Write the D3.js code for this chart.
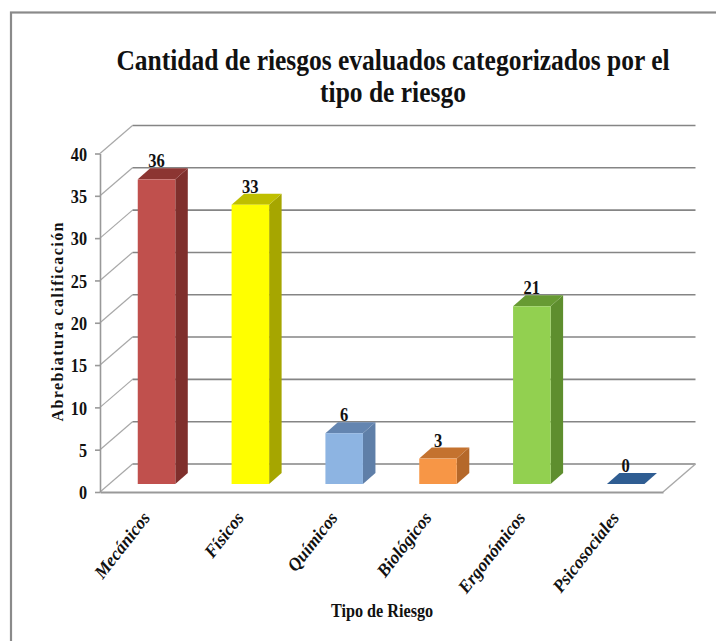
<!DOCTYPE html>
<html><head><meta charset="utf-8">
<script src="https://cdn.jsdelivr.net/npm/d3@7"></script>
<style>html,body{margin:0;padding:0;background:#fff}svg{display:block}text{font-family:"Liberation Serif",serif;font-weight:bold;fill:#111}</style>
</head><body><svg id="c" width="716" height="641"></svg>
<script>
const categories=["Mecánicos","Físicos","Químicos","Biológicos","Ergonómicos","Psicosociales"];
const values=[36,33,6,3,21,0];
const frontColors=["#C0504D","#FFFF00","#8DB4E2","#F79646","#92D050","#2F5D92"];
const sideColors=["#7F2F2C","#A6A600","#5F7FA8","#B5682A","#5E8E2E","#2F5D92"];
const topColors=["#8C3532","#BFBF00","#6485B0","#C4722F","#679A33","#2F5D92"];
const yTicks=[0,5,10,15,20,25,30,35,40];
const titleLines=["Cantidad de riesgos evaluados categorizados por el","tipo de riesgo"];
const yTitle="Abrebiatura calificación",xTitle="Tipo de Riesgo";

const svg=d3.select("#c");
svg.append("rect").attr("x",11).attr("y",12.5).attr("width",720).attr("height",640).attr("fill","#fff").attr("stroke","#8a8a8a").attr("stroke-width",2.2);
const x=d3.scaleBand().domain(categories).range([100,663]).paddingInner(0.6).paddingOuter(0.3);
const y=d3.scaleLinear().domain([0,40]).range([492,153.5]);
const depth={dx:32.5,dy:-28}, barOff={x:9.6,y:-8}, barD={dx:12.5,dy:-11};
const g=svg.append("g");
const x0r=x.range()[0], x1r=x.range()[1];
yTicks.forEach(t=>{
  const Y=y(t);
  g.append("path").attr("fill","none").attr("stroke","#a8a8a8").attr("stroke-width",1.2)
   .attr("d",d3.line()([[x0r,Y],[x0r+depth.dx,Y+depth.dy]]));
  g.append("path").attr("fill","none").attr("stroke","#858585").attr("stroke-width",1.6)
   .attr("d",d3.line()([[x0r+depth.dx,Y+depth.dy],[x1r+depth.dx,Y+depth.dy]]));
});
g.append("path").attr("fill","none").attr("stroke","#a8a8a8").attr("stroke-width",1.4)
 .attr("d",d3.line()([[x1r,y(0)],[x1r+depth.dx,y(0)+depth.dy]]));
const axL=d3.axisLeft(y).tickValues(yTicks).tickSize(5).tickSizeOuter(0);
const ga=svg.append("g").attr("transform","translate(100,0)").call(axL);
ga.selectAll("path,line").attr("stroke","#999").attr("stroke-width",1.6);
ga.selectAll("text").style("font-size","18px").attr("x",0).attr("transform","translate(-13,1) scale(.9,1)");
const axB=d3.axisBottom(x).tickSize(0).tickFormat("");
const gb=svg.append("g").attr("transform",`translate(0,${y(0)})`).call(axB);
gb.selectAll("path").attr("stroke","#999").attr("stroke-width",2);
const bars=svg.selectAll("g.bar").data(categories).join("g").attr("class","bar");
bars.each(function(c,i){
  const s=d3.select(this), x0=x(c)+barOff.x, x1=x0+x.bandwidth(), yb=y(0)+barOff.y, yt=yb-(y(0)-y(values[i])), d=barD;
  const l=d3.line();
  s.append("path").attr("fill",sideColors[i]).attr("d",l([[x1,yb],[x1+d.dx,yb+d.dy],[x1+d.dx,yt+d.dy],[x1,yt]])+"Z");
  s.append("path").attr("fill",topColors[i]).attr("d",l([[x0,yt],[x0+d.dx,yt+d.dy],[x1+d.dx,yt+d.dy],[x1,yt]])+"Z");
  if(values[i]>0)s.append("rect").attr("x",x0).attr("y",yt).attr("width",x.bandwidth()).attr("height",yb-yt).attr("fill",frontColors[i]);
  const cx=x0+x.bandwidth()/2;
  s.append("text").attr("transform",`translate(${cx},${yt-12}) scale(.92,1)`).attr("text-anchor","middle").style("font-size","18px").text(values[i]);
  const lx=x(c)+x.bandwidth()/2+4, ly=y(0)+26;
  svg.append("text").attr("transform",`translate(${lx},${ly}) rotate(-52) scale(.98,1)`).attr("text-anchor","end").style("font-size","18px").style("font-style","italic").text(c);
});
svg.selectAll("text.t").data(titleLines).join("text").attr("class","t")
  .attr("transform",(d,i)=>`translate(393,${i?102:70}) scale(.85,1)`).attr("text-anchor","middle").style("font-size","30px").text(d=>d);
svg.append("text").attr("transform","translate(382,617) scale(.9,1)").attr("text-anchor","middle").style("font-size","18px").text(xTitle);
svg.append("text").attr("transform","translate(63,322) rotate(-90)").attr("text-anchor","middle").style("font-size","16px").attr("textLength",199).attr("lengthAdjust","spacing").text(yTitle);
</script></body></html>
